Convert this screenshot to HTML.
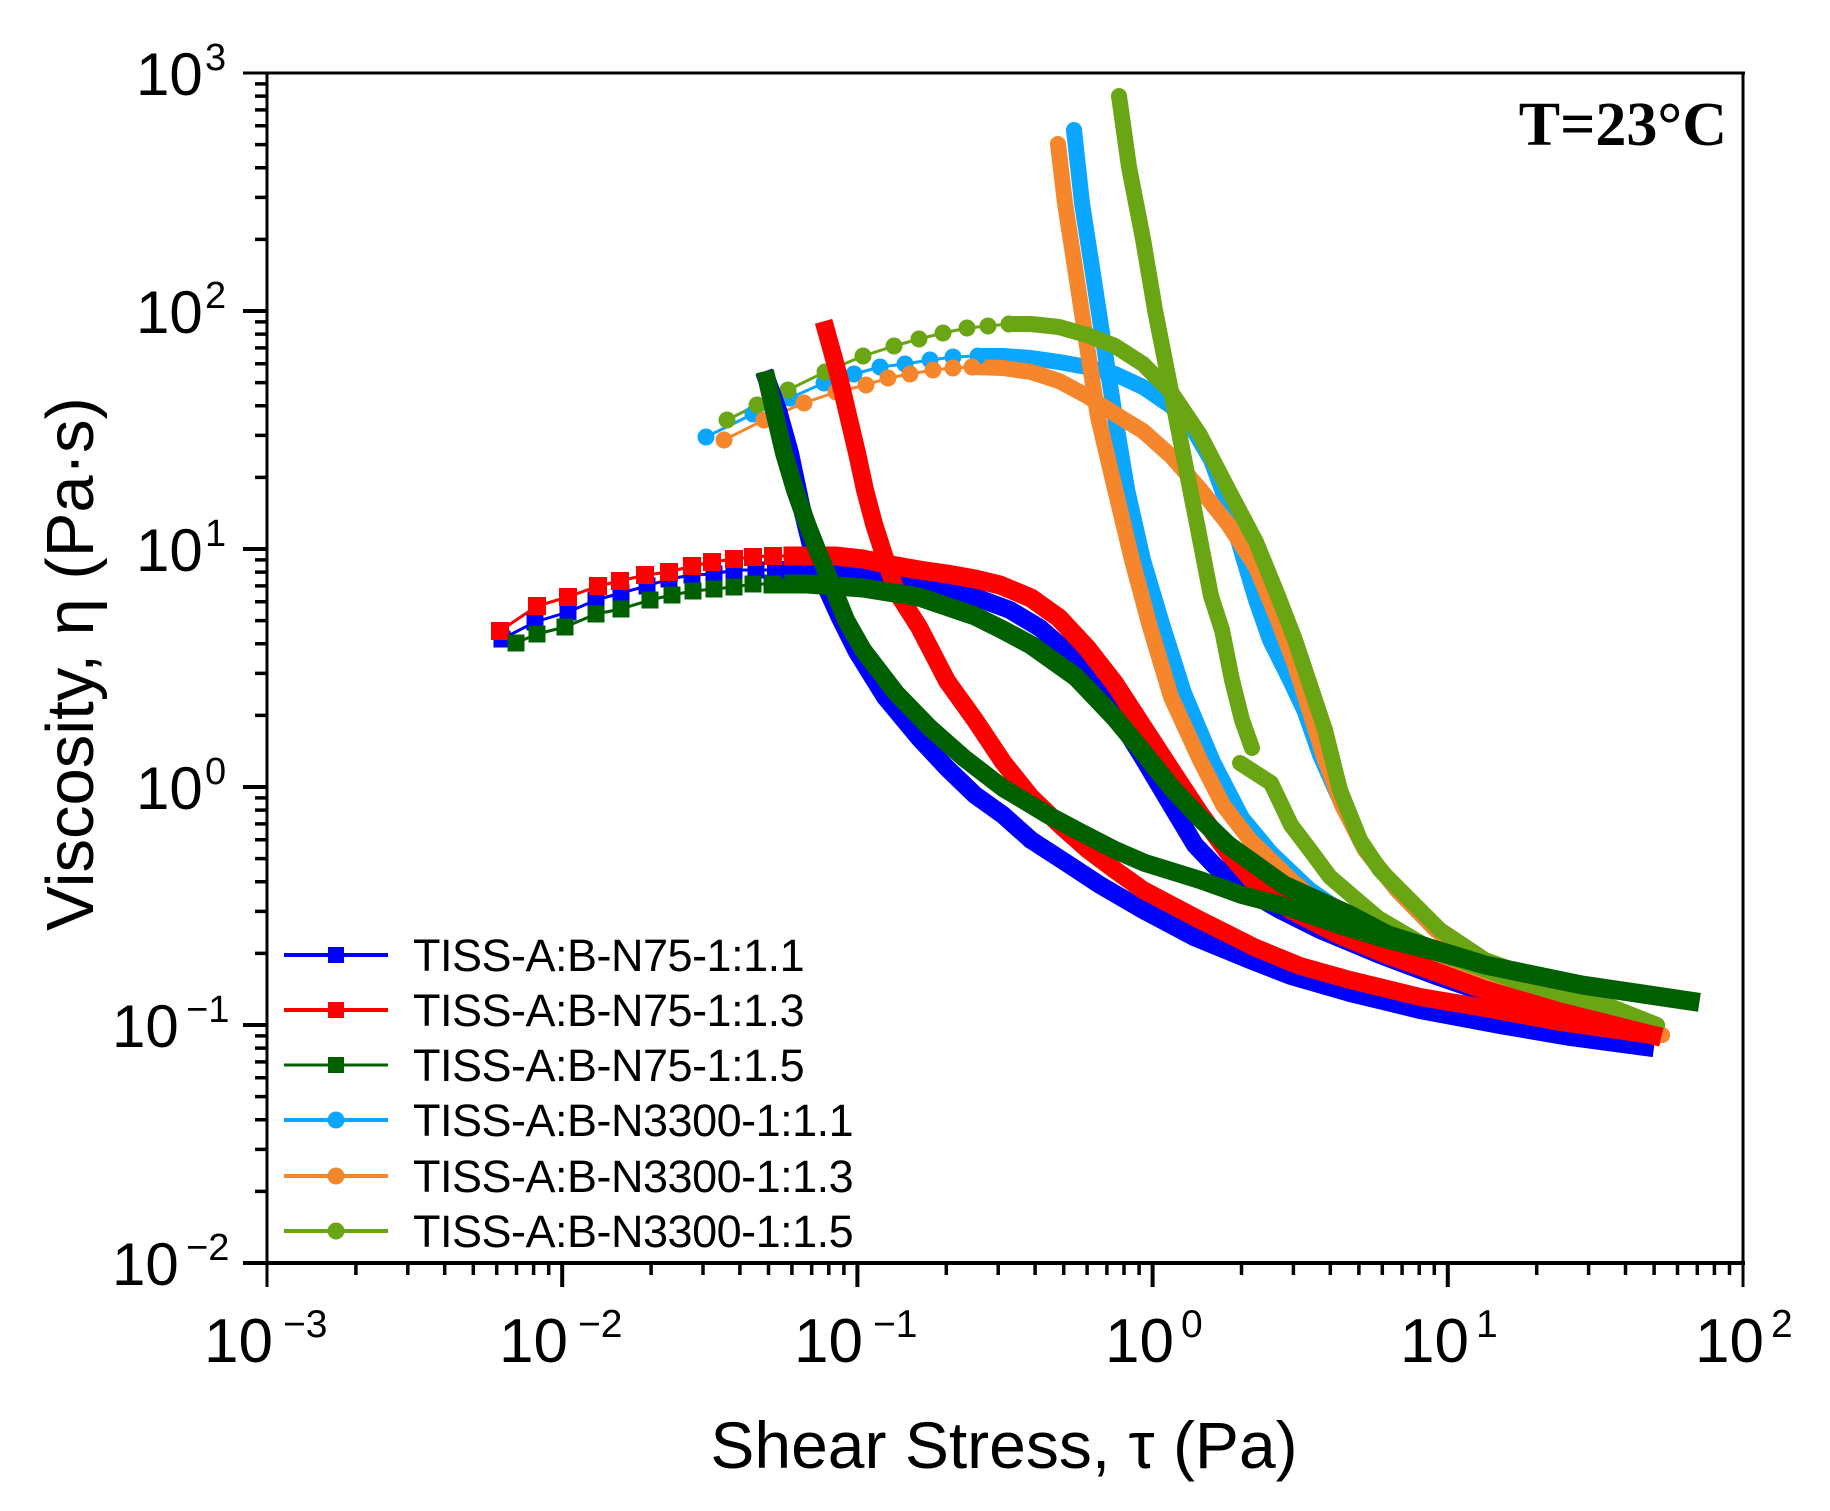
<!DOCTYPE html>
<html><head><meta charset="utf-8"><style>
html,body{margin:0;padding:0;background:#fff;}
svg{display:block;}
text{font-family:"Liberation Sans",Arial,sans-serif;fill:#000;}
</style></head><body>
<svg width="1830" height="1511" viewBox="0 0 1830 1511" xmlns="http://www.w3.org/2000/svg">
<rect width="1830" height="1511" fill="#fff"/>

<!-- ============ N3300 series (drawn first) ============ -->
<g fill="none" stroke-linejoin="round" stroke-linecap="round">
  <!-- light blue -->
  <polyline stroke="#0aa6ff" stroke-width="3" points="706,437 753,414 790,398 824,383 854,374 880,367 905,364 930,360 953,357 978,356"/>
  <polyline stroke="#0aa6ff" stroke-width="16" points="978,356 1003,356 1031,358 1059,362 1087,367 1115,374 1143,387 1171,406 1194,431 1211,460 1228,506 1244,560 1256,600 1270,640 1290,680 1305,712 1320,755 1340,800 1365,850 1397,890 1436,930 1485,965 1560,995 1640,1025"/>
  <polyline stroke="#0aa6ff" stroke-width="16" points="1074,130 1082,203 1093,274 1104,346 1115,417 1127,489 1143,560 1163,627 1184,693 1213,762 1242,818 1271,853 1310,890 1364,927 1436,963 1500,988 1570,1010 1640,1028"/>
  <!-- orange -->
  <polyline stroke="#f5862c" stroke-width="3" points="724,440 764,420 804,403 836,392 866,385 888,378 910,374 933,370 953,368 972,367"/>
  <polyline stroke="#f5862c" stroke-width="16" points="972,367 1003,368 1031,372 1059,381 1087,396 1115,414 1143,431 1171,456 1200,489 1228,524 1256,567 1278,620 1295,665 1310,712 1325,760 1342,805 1365,850 1397,890 1436,930 1485,965 1570,1002 1662,1035"/>
  <polyline stroke="#f5862c" stroke-width="16" points="1058,144 1065,203 1076,274 1087,346 1098,417 1115,489 1132,560 1150,627 1171,697 1200,760 1223,805 1250,840 1291,880 1339,920 1400,952 1480,983 1570,1010 1662,1035"/>
  <!-- light green -->
  <polyline stroke="#6aa514" stroke-width="3" points="727,420 757,405 788,390 825,372 863,356 894,346 919,339 943,333 967,328 988,326 1009,324"/>
  <polyline stroke="#6aa514" stroke-width="16" points="1009,324 1031,324 1059,327 1087,335 1115,346 1143,364 1171,392 1200,435 1228,489 1256,542 1278,596 1295,640 1310,685 1325,730 1340,790 1360,840 1380,870 1410,900 1440,930 1485,960 1582,995 1657,1025"/>
  <polyline stroke="#6aa514" stroke-width="16" points="1119,96 1129,167 1143,239 1155,310 1169,381 1183,453 1197,524 1211,596 1222,630 1232,680 1242,720 1252,748"/>
  <polyline stroke="#6aa514" stroke-width="16" points="1240,763 1271,783 1291,825 1310,850 1330,877 1378,918 1436,952 1533,987 1657,1025"/>
</g>
<g fill="#0aa6ff">
  <circle cx="706" cy="437" r="8.5"/><circle cx="753" cy="414" r="8.5"/><circle cx="790" cy="398" r="8.5"/><circle cx="824" cy="383" r="8.5"/><circle cx="854" cy="374" r="8.5"/><circle cx="880" cy="367" r="8.5"/><circle cx="905" cy="364" r="8.5"/><circle cx="930" cy="360" r="8.5"/><circle cx="953" cy="357" r="8.5"/><circle cx="978" cy="356" r="8.5"/>
</g>
<g fill="#f5862c">
  <circle cx="724" cy="440" r="8.5"/><circle cx="764" cy="420" r="8.5"/><circle cx="804" cy="403" r="8.5"/><circle cx="836" cy="392" r="8.5"/><circle cx="866" cy="385" r="8.5"/><circle cx="888" cy="378" r="8.5"/><circle cx="910" cy="374" r="8.5"/><circle cx="933" cy="370" r="8.5"/><circle cx="953" cy="368" r="8.5"/><circle cx="972" cy="367" r="8.5"/>
</g>
<g fill="#6aa514">
  <circle cx="727" cy="420" r="8.5"/><circle cx="757" cy="405" r="8.5"/><circle cx="788" cy="390" r="8.5"/><circle cx="825" cy="372" r="8.5"/><circle cx="863" cy="356" r="8.5"/><circle cx="894" cy="346" r="8.5"/><circle cx="919" cy="339" r="8.5"/><circle cx="943" cy="333" r="8.5"/><circle cx="967" cy="328" r="8.5"/><circle cx="988" cy="326" r="8.5"/><circle cx="1009" cy="324" r="8.5"/>
</g>

<!-- ============ N75 series ============ -->
<g fill="none" stroke-linejoin="round" stroke-linecap="square">
  <!-- blue -->
  <polyline stroke="#0000ff" stroke-width="3" points="502,639 535,622 568,612 596,600 621,593 647,586 669,579 692,575 714,574 734,570 756,570 776,570"/>
  <polyline stroke="#0000ff" stroke-width="18" points="776,570 807,570 863,574 919,583 975,597 1010,610 1040,628 1065,650 1090,680 1115,713 1143,758 1171,805 1195,845 1215,866 1242,888 1280,910 1320,930 1380,955 1436,976 1500,998 1560,1020 1645,1045"/>
  <polyline stroke="#0000ff" stroke-width="18" points="767,380 778,410 790,453 801,505 812,550 825,585 840,618 857,652 885,697 919,738 947,768 975,795 1003,815 1031,840 1065,862 1100,885 1143,910 1194,937 1250,960 1291,976 1350,993 1420,1010 1500,1025 1570,1037 1645,1047"/>
  <!-- red -->
  <polyline stroke="#ff0000" stroke-width="3" points="500,631 537,606 568,597 598,586 620,581 645,575 669,572 692,566 712,562 734,559 753,557 773,556 793,556"/>
  <polyline stroke="#ff0000" stroke-width="19" points="793,556 835,556 863,559 891,565 919,570 947,574 975,579 1000,585 1031,598 1059,618 1087,648 1115,684 1143,727 1171,770 1200,814 1228,852 1256,884 1291,910 1340,935 1388,955 1436,972 1485,990 1560,1012 1652,1035"/>
  <polyline stroke="#ff0000" stroke-width="18" points="826,330 833,355 840,381 848,415 857,453 865,490 874,524 884,555 896,591 919,627 947,681 975,720 1003,762 1031,797 1060,825 1087,849 1115,870 1143,890 1200,920 1256,948 1300,966 1350,980 1420,997 1485,1008 1560,1022 1652,1035"/>
  <!-- dark green -->
  <polyline stroke="#006000" stroke-width="3" points="516,643 537,634 565,627 596,614 621,609 650,600 672,595 693,591 714,589 734,587 753,584 773,584"/>
  <polyline stroke="#006000" stroke-width="19" points="773,584 807,584 863,588 919,597 975,616 1003,630 1031,645 1076,677 1115,718 1143,752 1171,787 1200,818 1228,845 1284,885 1350,915 1388,935 1436,950 1485,965 1582,985 1690,1001"/>
  <polyline stroke="#006000" stroke-width="18" points="767,380 775,415 784,453 795,490 807,524 818,552 829,578 846,620 863,650 896,693 930,728 964,758 1003,788 1048,815 1080,832 1115,850 1145,863 1200,880 1242,895 1284,906 1339,925 1388,940 1436,952 1485,965"/>
</g>
<g fill="#0000ff">
  <rect x="493.5" y="630.5" width="17" height="17"/><rect x="526.5" y="613.5" width="17" height="17"/><rect x="559.5" y="603.5" width="17" height="17"/><rect x="587.5" y="591.5" width="17" height="17"/><rect x="612.5" y="584.5" width="17" height="17"/><rect x="638.5" y="577.5" width="17" height="17"/><rect x="660.5" y="570.5" width="17" height="17"/><rect x="683.5" y="566.5" width="17" height="17"/><rect x="705.5" y="565.5" width="17" height="17"/><rect x="725.5" y="561.5" width="17" height="17"/><rect x="747.5" y="561.5" width="17" height="17"/><rect x="767.5" y="561.5" width="17" height="17"/>
</g>
<g fill="#ff0000">
  <rect x="491" y="622" width="18" height="18"/><rect x="528" y="597" width="18" height="18"/><rect x="559" y="588" width="18" height="18"/><rect x="589" y="577" width="18" height="18"/><rect x="611" y="572" width="18" height="18"/><rect x="636" y="566" width="18" height="18"/><rect x="660" y="563" width="18" height="18"/><rect x="683" y="557" width="18" height="18"/><rect x="703" y="553" width="18" height="18"/><rect x="725" y="550" width="18" height="18"/><rect x="744" y="548" width="18" height="18"/><rect x="764" y="547" width="18" height="18"/><rect x="784" y="547" width="18" height="18"/>
</g>
<g fill="#006000">
  <rect x="507.5" y="634.5" width="17" height="17"/><rect x="528.5" y="625.5" width="17" height="17"/><rect x="556.5" y="618.5" width="17" height="17"/><rect x="587.5" y="605.5" width="17" height="17"/><rect x="612.5" y="600.5" width="17" height="17"/><rect x="641.5" y="591.5" width="17" height="17"/><rect x="663.5" y="586.5" width="17" height="17"/><rect x="684.5" y="582.5" width="17" height="17"/><rect x="705.5" y="580.5" width="17" height="17"/><rect x="725.5" y="578.5" width="17" height="17"/><rect x="744.5" y="575.5" width="17" height="17"/><rect x="764.5" y="575.5" width="17" height="17"/>
</g>

<!-- ============ Axes frame ============ -->
<g stroke="#000" fill="none">
  <line x1="243" y1="73" x2="1745" y2="73" stroke-width="3"/>
  <line x1="267" y1="72" x2="267" y2="1287" stroke-width="3"/>
  <line x1="1743" y1="72" x2="1743" y2="1287" stroke-width="3"/>
  <line x1="243" y1="1263" x2="1745" y2="1263" stroke-width="4"/>
  <!-- major ticks -->
  <path stroke-width="4" d="M562.2 1263v24M857.4 1263v24M1152.6 1263v24M1447.8 1263v24M243 311h24M243 549h24M243 787h24M243 1025h24"/>
  <!-- minor x ticks -->
  <path stroke-width="3.5" d="M355.9 1263v12M407.8 1263v12M444.7 1263v12M473.3 1263v12M496.7 1263v12M516.5 1263v12M533.6 1263v12M548.7 1263v12
  M651.1 1263v12M703.0 1263v12M739.9 1263v12M768.5 1263v12M791.9 1263v12M811.7 1263v12M828.8 1263v12M843.9 1263v12
  M946.3 1263v12M998.2 1263v12M1035.1 1263v12M1063.7 1263v12M1087.1 1263v12M1106.9 1263v12M1124.0 1263v12M1139.1 1263v12
  M1241.5 1263v12M1293.4 1263v12M1330.3 1263v12M1358.9 1263v12M1382.3 1263v12M1402.1 1263v12M1419.2 1263v12M1434.3 1263v12
  M1536.7 1263v12M1588.6 1263v12M1625.5 1263v12M1654.1 1263v12M1677.5 1263v12M1697.3 1263v12M1714.4 1263v12M1729.5 1263v12"/>
  <!-- minor y ticks -->
  <path stroke-width="3.5" d="M255 1191.4h12M255 1149.4h12M255 1119.7h12M255 1096.6h12M255 1077.8h12M255 1061.9h12M255 1048.1h12M255 1035.9h12
  M255 953.4h12M255 911.4h12M255 881.7h12M255 858.6h12M255 839.8h12M255 823.9h12M255 810.1h12M255 797.9h12
  M255 715.4h12M255 673.4h12M255 643.7h12M255 620.6h12M255 601.8h12M255 585.9h12M255 572.1h12M255 559.9h12
  M255 477.4h12M255 435.4h12M255 405.7h12M255 382.6h12M255 363.8h12M255 347.9h12M255 334.1h12M255 321.9h12
  M255 239.4h12M255 197.4h12M255 167.7h12M255 144.6h12M255 125.8h12M255 109.9h12M255 96.1h12M255 83.9h12"/>
</g>

<!-- ============ Y tick labels ============ -->
<g font-size="60">
  <text x="136" y="95">10</text><text x="205" y="70" font-size="38">3</text>
  <text x="136" y="333">10</text><text x="205" y="308" font-size="38">2</text>
  <text x="136" y="571">10</text><text x="205" y="546" font-size="38">1</text>
  <text x="136" y="809">10</text><text x="205" y="784" font-size="38">0</text>
  <text x="112" y="1047">10</text><text x="186" y="1022" font-size="38">−1</text>
  <text x="112" y="1285">10</text><text x="186" y="1260" font-size="38">−2</text>
</g>

<!-- ============ X tick labels ============ -->
<g font-size="62">
  <text x="204" y="1362">10</text><text x="283" y="1337" font-size="39">−3</text>
  <text x="499" y="1362">10</text><text x="578" y="1337" font-size="39">−2</text>
  <text x="794" y="1362">10</text><text x="873" y="1337" font-size="39">−1</text>
  <text x="1105" y="1362">10</text><text x="1181" y="1337" font-size="39">0</text>
  <text x="1400" y="1362">10</text><text x="1476" y="1337" font-size="39">1</text>
  <text x="1695" y="1362">10</text><text x="1771" y="1337" font-size="39">2</text>
</g>

<!-- ============ Axis titles ============ -->
<text x="1004" y="1468" font-size="66" text-anchor="middle">Shear Stress, τ (Pa)</text>
<text transform="translate(93,664) rotate(-90)" font-size="67" text-anchor="middle">Viscosity, η (Pa·s)</text>

<!-- ============ Annotation ============ -->
<text x="1727" y="145" font-size="62" text-anchor="end" font-weight="bold" style="font-family:'Liberation Serif','Times New Roman',serif">T=23°C</text>

<!-- ============ Legend ============ -->
<g>
  <line x1="284" y1="955" x2="388" y2="955" stroke="#0000ff" stroke-width="4"/>
  <rect x="328" y="947" width="16" height="16" fill="#0000ff"/>
  <line x1="284" y1="1010" x2="388" y2="1010" stroke="#ff0000" stroke-width="4"/>
  <rect x="328" y="1002" width="16" height="16" fill="#ff0000"/>
  <line x1="284" y1="1065" x2="388" y2="1065" stroke="#006000" stroke-width="3"/>
  <rect x="328" y="1057" width="16" height="16" fill="#006000"/>
  <line x1="284" y1="1120" x2="388" y2="1120" stroke="#0aa6ff" stroke-width="4"/>
  <circle cx="336" cy="1120" r="8.5" fill="#0aa6ff"/>
  <line x1="284" y1="1176" x2="388" y2="1176" stroke="#f5862c" stroke-width="4"/>
  <circle cx="336" cy="1176" r="8.5" fill="#f5862c"/>
  <line x1="284" y1="1231" x2="388" y2="1231" stroke="#6aa514" stroke-width="4"/>
  <circle cx="336" cy="1231" r="8.5" fill="#6aa514"/>
</g>
<g font-size="45" letter-spacing="-0.5">
  <text x="413" y="971">TISS-A:B-N75-1:1.1</text>
  <text x="413" y="1026">TISS-A:B-N75-1:1.3</text>
  <text x="413" y="1081">TISS-A:B-N75-1:1.5</text>
  <text x="413" y="1136">TISS-A:B-N3300-1:1.1</text>
  <text x="413" y="1192">TISS-A:B-N3300-1:1.3</text>
  <text x="413" y="1247">TISS-A:B-N3300-1:1.5</text>
</g>
</svg>
</body></html>
